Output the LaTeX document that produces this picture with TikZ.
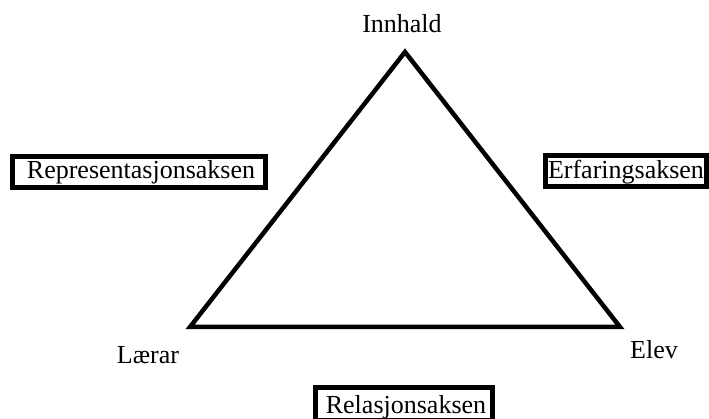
\documentclass[tikz,border=0pt]{standalone}
\usepackage{fontspec}
\setmainfont{Liberation Serif}
\begin{document}
\begin{tikzpicture}[x=1pt,y=-1pt,
  lbl/.style={font=\fontsize{26}{30}\selectfont, inner sep=0pt, anchor=base},
  axisbox/.style={draw, line width=5pt, inner sep=0pt},
  edge/.style={line width=4.5pt, line join=miter}]
\useasboundingbox (0,0) rectangle (709,419);
\coordinate (T) at (405,52);
\coordinate (L) at (190,327);
\coordinate (R) at (620,327);
\draw[edge] (T) -- (L) -- (R) -- cycle;
\node[lbl] (innhald) at (402,33) {Innhald};
\node[lbl] (laerar) at (148,363) {Lærar};
\node[lbl] (elev) at (654,358) {Elev};
\node[axisbox, minimum width=253pt, minimum height=31pt] (rep) at (139,172) {};
\node[lbl] (reptxt) at (141,179) {Representasjonsaksen};
\node[axisbox, minimum width=161pt, minimum height=31pt] (erf) at (626,171) {};
\node[lbl] (erftxt) at (626,179) {Erfaringsaksen};
\node[axisbox, minimum width=177pt, minimum height=33pt] (rel) at (404,404) {};
\node[lbl] (reltxt) at (406,413) {Relasjonsaksen};
\end{tikzpicture}
\end{document}
